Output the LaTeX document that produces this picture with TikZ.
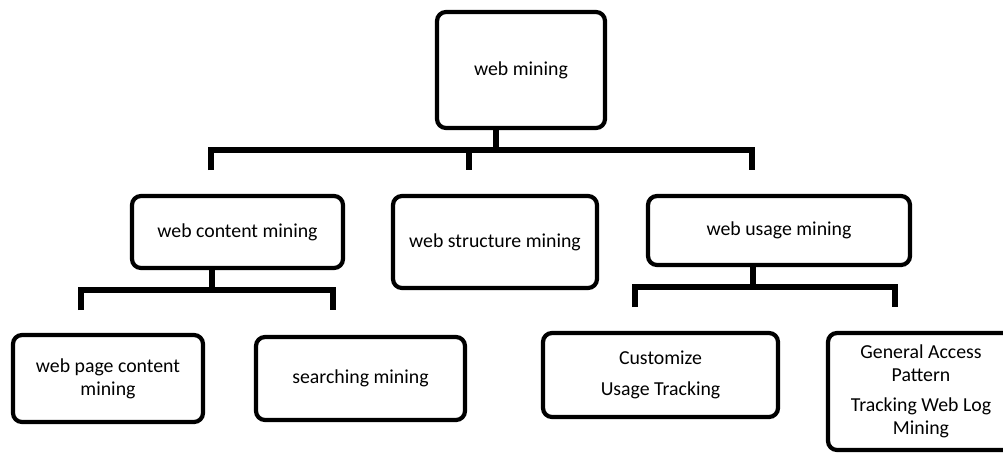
\documentclass[tikz,border=0pt]{standalone}
\usepackage{fontspec}
\setmainfont{Carlito}
\begin{document}
\begin{tikzpicture}[x=1pt,y=-1pt,
  boxnode/.style={draw=black, line width=4.2pt, rounded corners=9pt, fill=white,
    inner sep=0pt, align=center, font=\fontsize{19.8}{23}\selectfont},
  conn/.style={draw=black, line width=5.5pt, line join=miter, line cap=butt}]
\path[use as bounding box, clip] (0,0) rectangle (1003,453);
\fill[white] (0,0) rectangle (1003,453);

% nodes
\node[boxnode, minimum width=168pt, minimum height=116pt] (top) at (521,70) {web mining};
\node[boxnode, minimum width=211pt, minimum height=72pt] (content) at (237.5,232) {web content mining};
\node[boxnode, minimum width=204pt, minimum height=92pt] (structure) at (495,242) {web structure mining};
\node[boxnode, minimum width=262pt, minimum height=69pt] (usage) at (779,230.5) {web usage mining};
\node[boxnode, minimum width=190pt, minimum height=87pt] (page) at (108,378.5) {web page content\\mining};
\node[boxnode, minimum width=209pt, minimum height=83pt] (search) at (360.5,378.5) {searching mining};
\node[boxnode, minimum width=235pt, minimum height=84pt] (custom) at (660.5,375) {Customize\\[8pt]Usage Tracking};
\node[boxnode, minimum width=186pt, minimum height=117pt] (general) at (921,391.5) {General Access\\Pattern\\[7pt]Tracking Web Log\\Mining};

% top level connector
\coordinate (tj) at (496,152);
\coordinate (tl) at (211,150);
\coordinate (tr) at (752,150);
\coordinate (tm) at (469,150);
\coordinate (tle) at (211,170);
\coordinate (tre) at (752,170);
\coordinate (tme) at (469,170);
\draw[conn] (top.south -| tj) -- (tj);
\draw[conn] (tle) -- (tl) -- (tr) -- (tre);
\draw[conn] (tm) -- (tme);

% content connector
\coordinate (cj) at (212,291);
\coordinate (cl) at (81,290);
\coordinate (cr) at (333,290);
\coordinate (cle) at (81,310);
\coordinate (cre) at (333,310);
\draw[conn] (content.south -| cj) -- (cj);
\draw[conn] (cle) -- (cl) -- (cr) -- (cre);

% usage connector
\coordinate (uj) at (753,288);
\coordinate (ul) at (635,287);
\coordinate (ur) at (895,287);
\coordinate (ule) at (635,307);
\coordinate (ure) at (895,307);
\draw[conn] (usage.south -| uj) -- (uj);
\draw[conn] (ule) -- (ul) -- (ur) -- (ure);
\end{tikzpicture}
\end{document}
